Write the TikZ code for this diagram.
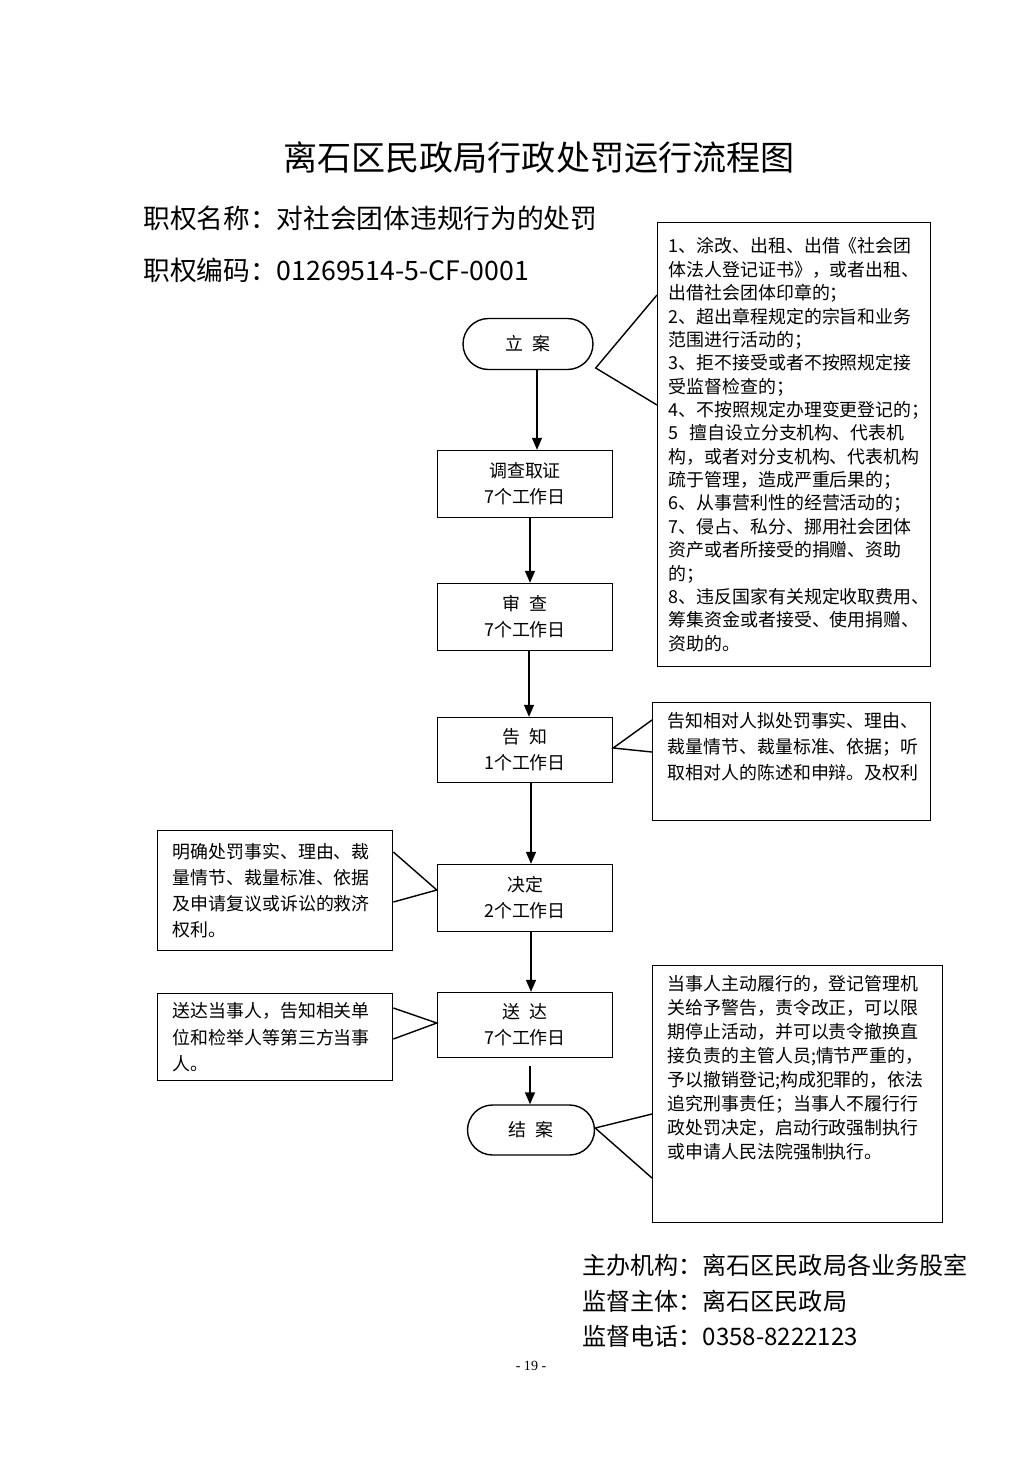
\documentclass[tikz,border=0pt]{standalone}
\usepackage{fontspec}
\setmainfont{Noto Sans CJK SC}
\newfontfamily\pagenumfont{Liberation Serif}
\usetikzlibrary{positioning, arrows.meta, calc}

\tikzset{
 stepbox/.style={draw, line width=0.8pt, minimum width=3.5cm, minimum height=1.34cm, align=center, inner sep=0pt, font=\fontsize{10.2}{14.7}\selectfont},
 capsule/.style={draw, line width=0.8pt, rounded corners=0.51cm, minimum width=2.6cm, minimum height=1.02cm, inner sep=0pt, font=\fontsize{10.2}{12}\selectfont},
 notebox/.style={draw, line width=0.8pt, anchor=north west, inner xsep=0.3cm, inner ysep=0.2cm},
 arr/.style={line width=0.8pt, -{Triangle[length=0.24cm, width=0.2cm]}},
 callout/.style={line width=0.8pt},
}
\newcommand{\notetext}[5]{\parbox[c][#2][#1]{#3}{\fontsize{10.2}{#4}\selectfont #5}}

\begin{document}
\begin{tikzpicture}[x=0.02cm, y=-0.02cm]
 \useasboundingbox (0,0) rectangle (1033,1461);

 \node[font=\fontsize{19.4}{22}\selectfont] (title) at (539,158) {离石区民政局行政处罚运行流程图};
 \node[anchor=west, inner sep=0pt, font=\fontsize{15.2}{18}\selectfont] (zqmc) at (143,218) {职权名称：对社会团体违规行为的处罚};
 \node[anchor=west, inner sep=0pt, font=\fontsize{15.2}{18}\selectfont] (zqbm) at (143,270) {职权编码：01269514-5-CF-0001};

 \node[capsule] (lian) at (528,344) {立\hspace{0.5em}案};
 \node[stepbox] (dcqz) at (525,484) {调查取证\\7个工作日};
 \node[stepbox] (shencha) at (525,617) {审\hspace{0.5em}查\\7个工作日};
 \node[stepbox, minimum height=1.3cm] (gaozhi) at (525,750) {告\hspace{0.5em}知\\1个工作日};
 \node[stepbox] (jueding) at (525,898) {决定\\2个工作日};
 \node[stepbox, minimum height=1.3cm] (songda) at (525,1025) {送\hspace{0.5em}达\\7个工作日};
 \node[capsule, minimum width=2.54cm, minimum height=1cm, rounded corners=0.5cm] (jiean) at (531,1130) {结\hspace{0.5em}案};

 \draw[arr] ($(lian.south)+(9,0)$) -- ($(dcqz.north)+(12,0)$);
 \draw[arr] ($(dcqz.south)+(5,0)$) -- ($(shencha.north)+(5,0)$);
 \draw[arr] ($(shencha.south)+(4,0)$) -- ($(gaozhi.north)+(4,0)$);
 \draw[arr] ($(gaozhi.south)+(6,0)$) -- ($(jueding.north)+(6,0)$);
 \draw[arr] ($(jueding.south)+(6,0)$) -- ($(songda.north)+(6,0)$);
 \draw[arr] ($(songda.south)+(5,8)$) -- ($(jiean.north)+(-1,0)$);

 \node[notebox, inner xsep=0.22cm] (n-lian) at (657,222) {\notetext{c}{8.48cm}{5.02cm}{13.3}{%
  1、涂改、出租、出借《社会团\\体法人登记证书》，或者出租、\\出借社会团体印章的；\\
  2、超出章程规定的宗旨和业务\\范围进行活动的；\\
  3、拒不接受或者不按照规定接\\受监督检查的；\\
  4、不按照规定办理变更登记的；\\
  5\hspace{0.6em}擅自设立分支机构、代表机\\构，或者对分支机构、代表机构\\疏于管理，造成严重后果的；\\
  6、从事营利性的经营活动的；\\
  7、侵占、私分、挪用社会团体\\资产或者所接受的捐赠、资助\\的；\\
  8、违反国家有关规定收取费用、\\筹集资金或者接受、使用捐赠、\\资助的。}};
 \node[notebox] (n-gaozhi) at (652,702) {\notetext{t}{1.96cm}{4.96cm}{14.7}{%
  告知相对人拟处罚事实、理由、\\裁量情节、裁量标准、依据；听\\取相对人的陈述和申辩。及权利}};
 \node[notebox] (n-jueding) at (157,830) {\notetext{c}{2cm}{4.1cm}{14.7}{%
  明确处罚事实、理由、裁\\量情节、裁量标准、依据\\及申请复议或诉讼的救济\\权利。}};
 \node[notebox] (n-songda) at (157,993) {\notetext{c}{1.34cm}{4.1cm}{15}{%
  送达当事人，告知相关单\\位和检举人等第三方当事\\人。}};
 \node[notebox] (n-jiean) at (652,965) {\notetext{t}{4.74cm}{5.2cm}{13.6}{%
  当事人主动履行的，登记管理机\\关给予警告，责令改正，可以限\\期停止活动，并可以责令撤换直\\接负责的主管人员;情节严重的，\\
  予以撤销登记;构成犯罪的，依法\\追究刑事责任；当事人不履行行\\政处罚决定，启动行政强制执行\\或申请人民法院强制执行。}};

 \draw[callout] ($(n-lian.north west)+(0,73)$) -- ($(lian.east)+(2,24)$) -- ($(n-lian.north west)+(0,183)$);
 \draw[callout] ($(n-gaozhi.north west)+(0,18)$) -- ($(gaozhi.east)+(0,-2)$) -- ($(n-gaozhi.north west)+(0,50)$);
 \draw[callout] ($(n-jueding.north east)+(0,22)$) -- ($(jueding.west)+(0,-8)$) -- ($(n-jueding.north east)+(0,72)$);
 \draw[callout] ($(n-songda.north east)+(0,15)$) -- ($(songda.west)+(0,-2)$) -- ($(n-songda.north east)+(0,46)$);
 \draw[callout] ($(n-jiean.north west)+(0,149)$) -- ($(jiean.east)+(0,-2)$) -- ($(n-jiean.north west)+(0,213)$);

 \node[anchor=west, inner sep=0pt, font=\fontsize{13.7}{16}\selectfont] (zbjg) at (582,1265) {主办机构：离石区民政局各业务股室};
 \node[anchor=west, inner sep=0pt, font=\fontsize{13.7}{16}\selectfont] (jdzt) at (582,1301) {监督主体：离石区民政局};
 \node[anchor=west, inner sep=0pt, font=\fontsize{13.7}{16}\selectfont] (jddh) at (582,1336) {监督电话：0358-8222123};
 \node[font={\pagenumfont\fontsize{8}{10}\selectfont}] (page) at (531,1366) {- 19 -};
\end{tikzpicture}
\end{document}
